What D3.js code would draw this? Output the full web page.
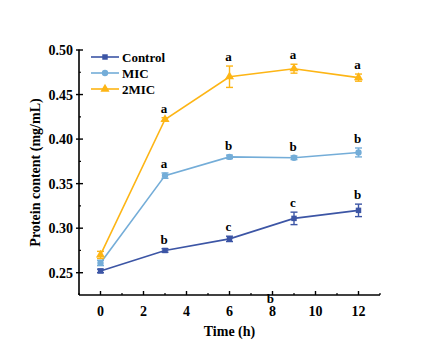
<!DOCTYPE html>
<html>
<head>
<meta charset="utf-8">
<script src="https://cdn.jsdelivr.net/npm/d3@7"></script>
<style>
  body { margin: 0; background: #fff; }
  svg text { font-family: "Liberation Serif", "Times New Roman", serif; font-weight: bold; }
</style>
</head>
<body>
<div id="chart"></div>
<script>
// time points (h)
var times = [0, 3, 6, 9, 12];

// protein content (mg/mL) and error bars
var controlVals = [0.252, 0.275, 0.288, 0.311, 0.320];
var controlErr  = [0.002, 0.002, 0.003, 0.007, 0.007];
var micVals     = [0.261, 0.359, 0.380, 0.379, 0.385];
var micErr      = [0.003, 0.003, 0.002, 0.002, 0.005];
var mic2Vals    = [0.270, 0.422, 0.470, 0.479, 0.469];
var mic2Err     = [0.004, 0.002, 0.012, 0.005, 0.004];

// significance letters
var controlLetters = ["", "b", "c", "c", "b"];
var micLetters     = ["", "a", "b", "b", "b"];
var mic2Letters    = ["", "a", "a", "a", "a"];

var xTicks = [0, 2, 4, 6, 8, 10, 12];
var yTicks = [0.25, 0.30, 0.35, 0.40, 0.45, 0.50];

var width = 432, height = 363;
var x0 = 79, x1 = 380, y0 = 295, y1 = 50;

var series = [
  { name: "Control", vals: controlVals, err: controlErr, letters: controlLetters, color: "#3c55a5", shape: d3.symbolSquare, size: 30 },
  { name: "MIC", vals: micVals, err: micErr, letters: micLetters, color: "#74add8", shape: d3.symbolCircle, size: 32 },
  { name: "2MIC", vals: mic2Vals, err: mic2Err, letters: mic2Letters, color: "#fdb515", shape: d3.symbolTriangle, size: 36 }
];

var svg = d3.select("#chart").append("svg")
  .attr("width", width)
  .attr("height", height);

var x = d3.scaleLinear().domain([-1, 13]).range([x0, x1]);
var y = d3.scaleLinear().domain([0.225, 0.50]).range([y0, y1]);

// x axis
var xAxis = svg.append("g").attr("transform", "translate(0," + y0 + ")");
xAxis.append("line").attr("x1", x0).attr("x2", x1).attr("stroke", "#000").attr("stroke-width", 1.6);
xAxis.selectAll(".maj").data(xTicks).enter().append("line")
  .attr("x1", function (d) { return x(d); }).attr("x2", function (d) { return x(d); })
  .attr("y1", 0).attr("y2", -4).attr("stroke", "#000").attr("stroke-width", 1.4);
xAxis.selectAll(".min").data(d3.range(-1, 13.5, 2)).enter().append("line")
  .attr("x1", function (d) { return x(d); }).attr("x2", function (d) { return x(d); })
  .attr("y1", 0).attr("y2", -2).attr("stroke", "#000").attr("stroke-width", 1.2);
xAxis.selectAll("text").data(xTicks).enter().append("text")
  .attr("x", function (d) { return x(d); })
  .attr("y", 21)
  .attr("text-anchor", "middle")
  .attr("font-size", 14)
  .text(function (d) { return d; });

// y axis
var yAxis = svg.append("g").attr("transform", "translate(" + x0 + ",0)");
yAxis.append("line").attr("y1", y0).attr("y2", y1 - 0.5).attr("stroke", "#000").attr("stroke-width", 1.6);
yAxis.selectAll(".maj").data(yTicks).enter().append("line")
  .attr("y1", function (d) { return y(d); }).attr("y2", function (d) { return y(d); })
  .attr("x1", -3).attr("x2", 4).attr("stroke", "#000").attr("stroke-width", 1.4);
yAxis.selectAll(".min").data(d3.range(0.275, 0.49, 0.05)).enter().append("line")
  .attr("y1", function (d) { return y(d); }).attr("y2", function (d) { return y(d); })
  .attr("x1", 0).attr("x2", 2).attr("stroke", "#000").attr("stroke-width", 1.2);
yAxis.selectAll("text").data(yTicks).enter().append("text")
  .attr("x", -6)
  .attr("y", function (d) { return y(d) + 5; })
  .attr("text-anchor", "end")
  .attr("font-size", 14)
  .text(function (d) { return d.toFixed(2); });

// axis titles
svg.append("text")
  .attr("x", (x0 + x1) / 2)
  .attr("y", 336)
  .attr("text-anchor", "middle")
  .attr("font-size", 14)
  .text("Time (h)");
svg.append("text")
  .attr("transform", "translate(40," + ((y0 + y1) / 2) + ") rotate(-90)")
  .attr("text-anchor", "middle")
  .attr("font-size", 14)
  .text("Protein content (mg/mL)");

var line = d3.line()
  .x(function (d) { return x(d.t); })
  .y(function (d) { return y(d.v); });

series.forEach(function (s) {
  var pts = times.map(function (t, i) { return { t: t, v: s.vals[i], e: s.err[i], l: s.letters[i] }; });
  var g = svg.append("g");
  g.append("path").datum(pts)
    .attr("d", line)
    .attr("fill", "none")
    .attr("stroke", s.color)
    .attr("stroke-width", 1.6);
  var eb = g.selectAll(".eb").data(pts).enter().append("g");
  eb.append("line")
    .attr("x1", function (d) { return x(d.t); }).attr("x2", function (d) { return x(d.t); })
    .attr("y1", function (d) { return y(d.v - d.e); }).attr("y2", function (d) { return y(d.v + d.e); })
    .attr("stroke", s.color).attr("stroke-width", 1.4);
  [-1, 1].forEach(function (sign) {
    eb.append("line")
      .attr("x1", function (d) { return x(d.t) - 3.5; }).attr("x2", function (d) { return x(d.t) + 3.5; })
      .attr("y1", function (d) { return y(d.v + sign * d.e); }).attr("y2", function (d) { return y(d.v + sign * d.e); })
      .attr("stroke", s.color).attr("stroke-width", 1.4);
  });
  g.selectAll(".pt").data(pts).enter().append("path")
    .attr("d", d3.symbol().type(s.shape).size(s.size))
    .attr("transform", function (d) { return "translate(" + x(d.t) + "," + y(d.v) + ")"; })
    .attr("fill", s.color);
  g.selectAll(".lt").data(pts.filter(function (d) { return d.l; })).enter().append("text")
    .attr("x", function (d) { return x(d.t) - 1; })
    .attr("y", function (d) { return y(d.v + d.e) - 5; })
    .attr("text-anchor", "middle")
    .attr("font-size", 13)
    .text(function (d) { return d.l; });
});

// stray letter below the x axis
svg.append("text")
  .attr("x", x(7.9)).attr("y", 303)
  .attr("text-anchor", "middle")
  .attr("font-size", 13)
  .text("b");

// legend
var legend = svg.append("g").attr("transform", "translate(91,57)");
series.forEach(function (s, i) {
  var row = legend.append("g").attr("transform", "translate(0," + (i * 16) + ")");
  row.append("line").attr("x1", 0).attr("x2", 28).attr("stroke", s.color).attr("stroke-width", 1.6);
  row.append("path").attr("d", d3.symbol().type(s.shape).size(s.size))
    .attr("transform", "translate(14,0)").attr("fill", s.color);
  row.append("text").attr("x", 31).attr("y", 4.5).attr("font-size", 13).text(s.name);
});
</script>
</body>
</html>
